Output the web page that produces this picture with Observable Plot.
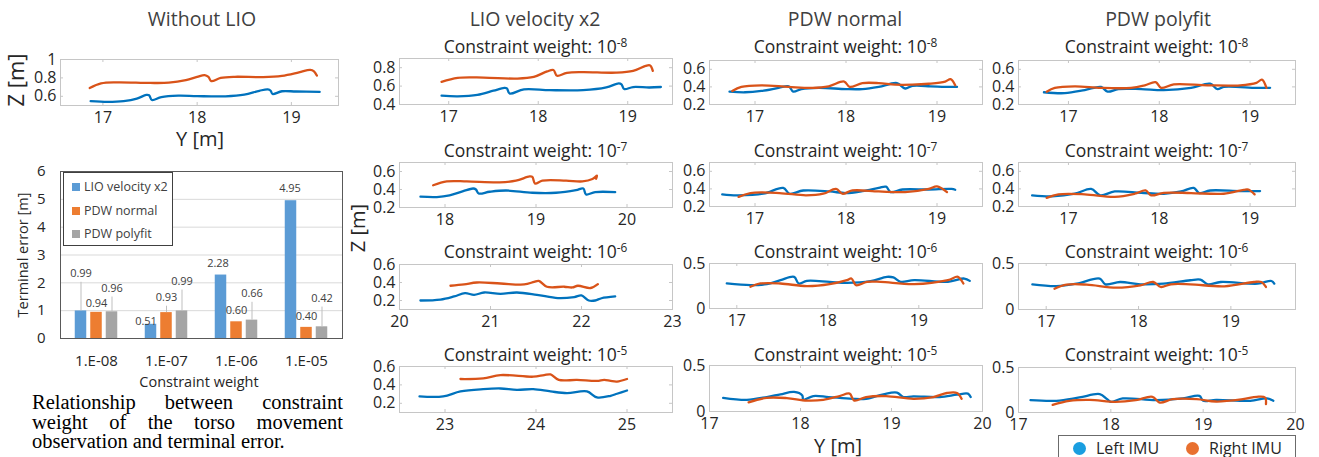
<!DOCTYPE html>
<html><head><meta charset="utf-8">
<script src="https://cdn.jsdelivr.net/npm/d3@7"></script>
<script src="https://cdn.jsdelivr.net/npm/@observablehq/plot@0.6"></script>
<style>
body{margin:0;background:#fff;}
#root{position:relative;width:1319px;height:457px;overflow:hidden;background:#fff;font-family:"Open Sans",sans-serif;}
.lbl{position:absolute;white-space:nowrap;line-height:1.05;}
.lbl sup{font-size:0.68em;vertical-align:0.5em;line-height:0;}
.pl{position:absolute;}
.cap{position:absolute;left:32px;top:392px;width:311px;height:60px;font-family:"Liberation Serif","Times New Roman",serif;font-size:20.5px;color:#000;}
.cap div{position:absolute;left:0;width:311px;text-align:justify;text-align-last:justify;white-space:nowrap;line-height:20px;}
</style></head>
<body><div id="root"></div>
<script>
// ---------- data: bar chart ----------
const weights = ["1.E-08", "1.E-07", "1.E-06", "1.E-05"];
const lioErr = [0.99, 0.51, 2.28, 4.95];
const normalErr = [0.94, 0.93, 0.60, 0.40];
const polyErr = [0.96, 0.99, 0.66, 0.42];
const barSeries = ["LIO velocity x2", "PDW normal", "PDW polyfit"];
const imuNames = ["Left IMU", "Right IMU"];

// ---------- data: trajectories [Y, Z] ----------
const noLioLeft = [[16.87,0.548],[17.05,0.540],[17.22,0.548],[17.36,0.575],[17.46,0.615],[17.49,0.612],[17.52,0.56],[17.62,0.592],[17.8,0.607],[18.0,0.602],[18.3,0.6],[18.5,0.618],[18.66,0.66],[18.75,0.675],[18.78,0.66],[18.8,0.625],[18.9,0.655],[19.05,0.652],[19.3,0.648]];
const noLioRight = [[16.86,0.69],[16.98,0.74],[17.15,0.752],[17.5,0.745],[17.7,0.748],[17.88,0.775],[18.0,0.81],[18.08,0.83],[18.12,0.81],[18.15,0.765],[18.25,0.8],[18.4,0.812],[18.7,0.808],[18.9,0.822],[19.08,0.86],[19.2,0.888],[19.24,0.872],[19.27,0.825]];

const lio8Left = [[16.92,0.496],[17.1,0.489],[17.32,0.504],[17.5,0.55],[17.62,0.58],[17.65,0.575],[17.68,0.52],[17.84,0.565],[18.13,0.556],[18.5,0.556],[18.76,0.586],[18.9,0.63],[18.93,0.62],[18.96,0.568],[19.06,0.59],[19.24,0.585],[19.37,0.59]];
const lio8Right = [[16.92,0.646],[17.1,0.69],[17.39,0.693],[17.76,0.682],[17.95,0.7],[18.1,0.76],[18.17,0.775],[18.21,0.712],[18.32,0.745],[18.5,0.752],[18.87,0.746],[19.06,0.765],[19.2,0.82],[19.25,0.825],[19.28,0.765]];
const lio7Left = [[17.73,0.32],[17.91,0.316],[18.05,0.335],[18.2,0.382],[18.31,0.411],[18.34,0.4],[18.37,0.356],[18.49,0.375],[18.67,0.389],[18.96,0.364],[19.22,0.364],[19.44,0.393],[19.52,0.411],[19.55,0.345],[19.65,0.371],[19.87,0.371]];
const lio7Right = [[17.87,0.447],[18.02,0.49],[18.24,0.49],[18.6,0.48],[18.78,0.498],[18.93,0.545],[18.96,0.54],[18.99,0.465],[19.07,0.498],[19.33,0.498],[19.51,0.49],[19.62,0.516],[19.67,0.553],[19.66,0.52]];
const lio6Left = [[20.23,0.2],[20.45,0.21],[20.6,0.245],[20.72,0.281],[20.82,0.263],[20.93,0.289],[21.11,0.274],[21.29,0.289],[21.51,0.263],[21.74,0.227],[21.92,0.238],[22.0,0.256],[22.08,0.2],[22.15,0.2],[22.22,0.225],[22.37,0.245]];
const lio6Right = [[20.56,0.364],[20.71,0.378],[20.85,0.4],[21.11,0.389],[21.37,0.378],[21.48,0.407],[21.53,0.418],[21.62,0.353],[21.81,0.353],[21.9,0.345],[21.96,0.364],[22.1,0.339],[22.18,0.382]];
const lio5Left = [[22.72,0.275],[22.98,0.275],[23.17,0.329],[23.42,0.354],[23.61,0.361],[23.79,0.346],[23.97,0.354],[24.16,0.329],[24.34,0.311],[24.56,0.329],[24.67,0.264],[24.82,0.282],[24.89,0.304],[25.0,0.339]];
const lio5Right = [[23.17,0.464],[23.42,0.471],[23.61,0.507],[23.97,0.489],[24.09,0.507],[24.16,0.514],[24.25,0.454],[24.45,0.454],[24.67,0.443],[24.75,0.455],[24.82,0.443],[24.89,0.436],[25.0,0.464]];

const pdwN8Left = [[16.72,0.346],[16.89,0.339],[17.07,0.354],[17.26,0.389],[17.37,0.407],[17.42,0.346],[17.51,0.375],[17.7,0.389],[18.0,0.375],[18.18,0.375],[18.36,0.4],[18.56,0.443],[18.65,0.382],[18.73,0.411],[18.93,0.407],[19.09,0.4],[19.22,0.4]];
const pdwN8Right = [[16.75,0.354],[16.85,0.4],[17.07,0.418],[17.37,0.4],[17.63,0.389],[17.81,0.407],[17.98,0.461],[18.04,0.4],[18.18,0.443],[18.36,0.443],[18.54,0.425],[18.73,0.425],[18.91,0.436],[19.09,0.461],[19.15,0.489],[19.2,0.418]];
const pdwN7Left = [[16.64,0.338],[16.8,0.327],[17.09,0.345],[17.31,0.411],[17.38,0.345],[17.53,0.382],[17.82,0.371],[18.0,0.353],[18.18,0.375],[18.36,0.411],[18.44,0.425],[18.49,0.364],[18.62,0.393],[18.91,0.393],[19.16,0.4],[19.2,0.39]];
const pdwN7Right = [[16.82,0.309],[16.95,0.353],[17.27,0.353],[17.56,0.327],[17.75,0.345],[17.89,0.4],[17.96,0.345],[18.07,0.382],[18.36,0.371],[18.65,0.364],[18.91,0.4],[19.0,0.429],[19.11,0.364]];
const pdwN6Left = [[16.89,0.278],[17.15,0.259],[17.33,0.27],[17.48,0.315],[17.63,0.352],[17.68,0.278],[17.77,0.307],[18.02,0.296],[18.21,0.285],[18.47,0.304],[18.65,0.352],[18.72,0.345],[18.8,0.296],[18.95,0.315],[19.32,0.296],[19.5,0.333],[19.56,0.307]];
const pdwN6Right = [[17.15,0.241],[17.26,0.278],[17.48,0.278],[17.77,0.248],[18.02,0.27],[18.21,0.315],[18.26,0.333],[18.31,0.259],[18.43,0.296],[18.58,0.296],[18.95,0.27],[19.32,0.315],[19.43,0.352],[19.49,0.278]];
const pdwN5Left = [[17.15,0.149],[17.41,0.127],[17.63,0.157],[17.78,0.187],[17.93,0.213],[18.02,0.175],[18.03,0.127],[18.14,0.168],[18.31,0.157],[18.57,0.138],[18.72,0.138],[18.91,0.187],[19.06,0.205],[19.13,0.157],[19.24,0.164],[19.53,0.157],[19.72,0.183],[19.84,0.194],[19.87,0.157]];
const pdwN5Right = [[17.43,0.1],[17.63,0.149],[17.85,0.146],[18.07,0.119],[18.25,0.127],[18.43,0.168],[18.54,0.194],[18.59,0.119],[18.72,0.157],[18.94,0.168],[19.24,0.138],[19.46,0.157],[19.61,0.201],[19.72,0.201],[19.77,0.138]];

const pdwP8Left = [[16.73,0.339],[16.96,0.329],[17.18,0.364],[17.36,0.4],[17.43,0.346],[17.55,0.375],[17.8,0.375],[18.05,0.364],[18.35,0.389],[18.56,0.436],[18.64,0.375],[18.71,0.4],[19.07,0.389],[19.22,0.389]];
const pdwP8Right = [[16.76,0.346],[16.85,0.389],[17.07,0.407],[17.36,0.389],[17.69,0.389],[17.84,0.418],[17.96,0.454],[18.02,0.389],[18.16,0.429],[18.53,0.418],[18.89,0.418],[19.07,0.446],[19.13,0.482],[19.18,0.389]];
const pdwP7Left = [[16.6,0.327],[16.82,0.316],[17.07,0.345],[17.25,0.4],[17.35,0.327],[17.51,0.371],[17.8,0.356],[18.05,0.345],[18.24,0.371],[18.38,0.411],[18.44,0.353],[18.56,0.382],[18.89,0.375],[19.11,0.375]];
const pdwP7Right = [[16.76,0.298],[16.89,0.338],[17.18,0.338],[17.51,0.309],[17.73,0.345],[17.85,0.382],[17.91,0.327],[18.05,0.356],[18.35,0.353],[18.71,0.345],[18.93,0.389],[18.98,0.393],[19.05,0.338]];
const pdwP6Left = [[16.85,0.274],[17.11,0.255],[17.33,0.281],[17.58,0.336],[17.64,0.274],[17.8,0.299],[18.02,0.274],[18.27,0.281],[18.56,0.318],[18.67,0.325],[18.75,0.274],[18.89,0.299],[19.29,0.281],[19.44,0.31],[19.47,0.281]];
const pdwP6Right = [[17.09,0.226],[17.22,0.27],[17.44,0.27],[17.76,0.237],[18.02,0.263],[18.16,0.299],[18.24,0.245],[18.35,0.274],[18.56,0.274],[18.93,0.252],[19.25,0.299],[19.33,0.299],[19.38,0.245]];
const pdwP5Left = [[17.13,0.137],[17.41,0.13],[17.66,0.167],[17.88,0.204],[17.96,0.148],[18.0,0.119],[18.13,0.156],[18.49,0.137],[18.78,0.156],[18.96,0.185],[19.0,0.13],[19.14,0.141],[19.51,0.13],[19.69,0.156],[19.76,0.13]];
const pdwP5Right = [[17.37,0.085],[17.55,0.13],[17.77,0.141],[18.05,0.119],[18.27,0.137],[18.45,0.174],[18.53,0.111],[18.67,0.148],[18.93,0.148],[19.14,0.122],[19.43,0.148],[19.58,0.174],[19.67,0.167],[19.68,0.093]];

// ---------- rendering ----------
const BLUE = "#0072BD", ORANGE = "#D95319";
const TXT = "#262626", FRAME = "#c6c6c6";
const root = document.getElementById("root");

function label(html, x, y, o = {}) {
  const d = document.createElement("div");
  d.className = "lbl";
  d.innerHTML = html;
  d.style.left = x + "px";
  d.style.top = y + "px";
  d.style.fontSize = (o.size || 16) + "px";
  d.style.color = o.color || TXT;
  if (o.family) d.style.fontFamily = o.family;
  d.style.transform = "translate(-50%,-50%)" + (o.rotate ? ` rotate(${o.rotate}deg)` : "");
  root.appendChild(d);
  return d;
}
function place(svg, left, top) {
  const d = document.createElement("div");
  d.className = "pl";
  d.style.left = left + "px";
  d.style.top = top + "px";
  d.appendChild(svg);
  root.appendChild(d);
}

function panel(c) {
  const ML = 50, MR = 10, MT = 4, MB = 30;
  const w = c.x1 - c.x0, h = c.y1 - c.y0;
  const rows = [
    ...c.L.map(([y, z]) => ({y, z, s: imuNames[0]})),
    ...c.R.map(([y, z]) => ({y, z, s: imuNames[1]}))
  ];
  const svg = Plot.plot({
    width: w + ML + MR, height: h + MT + MB,
    marginLeft: ML, marginRight: MR, marginTop: MT, marginBottom: MB,
    style: {background: "transparent", fontFamily: "Open Sans", fontSize: "16px", color: TXT, overflow: "visible"},
    x: {domain: c.xd, ticks: c.xt, tickSize: 0, tickPadding: 6, label: null, tickFormat: d => String(d)},
    y: {domain: c.yd, ticks: c.yt, tickSize: 0, tickPadding: 4, label: null, tickFormat: d => String(d)},
    color: {domain: imuNames, range: [BLUE, ORANGE]},
    marks: [
      Plot.frame({stroke: FRAME}),
      Plot.tickX(c.xt, {x: d => d, insetTop: h - 3, stroke: FRAME}),
      Plot.tickX(c.xt, {x: d => d, insetBottom: h - 3, stroke: FRAME}),
      Plot.tickY(c.yt, {y: d => d, insetRight: w - 3, stroke: FRAME}),
      Plot.tickY(c.yt, {y: d => d, insetLeft: w - 3, stroke: FRAME}),
      Plot.line(rows, {x: "y", y: "z", z: "s", stroke: "s", strokeWidth: 2.3, curve: "catmull-rom"})
    ]
  });
  place(svg, c.x0 - ML, c.y0 - MT);
  if (c.sub) label(`Constraint weight: 10<sup>${c.sub}</sup>`, (c.x0 + c.x1) / 2, c.subY, {size: 17.5});
}

const C1 = [399, 672], C2 = [709, 982], C3 = [1018, 1295];
const panels = [
  {x0: 60, x1: 338, y0: 59, y1: 105, xd: [16.55, 19.5], yd: [0.5, 1], xt: [17, 18, 19], yt: [0.6, 0.8, 1], L: noLioLeft, R: noLioRight},
  {x0: C1[0], x1: C1[1], y0: 58, y1: 104, xd: [16.45, 19.5], yd: [0.4, 0.9], xt: [17, 18, 19], yt: [0.4, 0.6, 0.8], L: lio8Left, R: lio8Right, sub: "-8", subY: 46},
  {x0: C1[0], x1: C1[1], y0: 162, y1: 207, xd: [17.5, 20.5], yd: [0.2, 0.7], xt: [18, 19, 20], yt: [0.2, 0.4, 0.6], L: lio7Left, R: lio7Right, sub: "-7", subY: 150},
  {x0: C1[0], x1: C1[1], y0: 264, y1: 309, xd: [20, 23], yd: [0.1, 0.6], xt: [20, 21, 22, 23], yt: [0.2, 0.4, 0.6], L: lio6Left, R: lio6Right, sub: "-6", subY: 251},
  {x0: C1[0], x1: C1[1], y0: 366, y1: 412, xd: [22.5, 25.5], yd: [0.1, 0.6], xt: [23, 24, 25], yt: [0.2, 0.4, 0.6], L: lio5Left, R: lio5Right, sub: "-5", subY: 354},
  {x0: C2[0], x1: C2[1], y0: 60, y1: 104, xd: [16.5, 19.5], yd: [0.2, 0.7], xt: [17, 18, 19], yt: [0.2, 0.4, 0.6], L: pdwN8Left, R: pdwN8Right, sub: "-8", subY: 46},
  {x0: C2[0], x1: C2[1], y0: 162, y1: 206, xd: [16.5, 19.5], yd: [0.2, 0.7], xt: [17, 18, 19], yt: [0.2, 0.4, 0.6], L: pdwN7Left, R: pdwN7Right, sub: "-7", subY: 150},
  {x0: C2[0], x1: C2[1], y0: 263, y1: 308, xd: [16.7, 19.7], yd: [0, 0.5], xt: [17, 18, 19], yt: [0, 0.5], L: pdwN6Left, R: pdwN6Right, sub: "-6", subY: 251},
  {x0: C2[0], x1: C2[1], y0: 365, y1: 411, xd: [17, 20], yd: [0, 0.5], xt: [17, 18, 19, 20], yt: [0, 0.5], L: pdwN5Left, R: pdwN5Right, sub: "-5", subY: 354},
  {x0: C3[0], x1: C3[1], y0: 60, y1: 104, xd: [16.45, 19.5], yd: [0.2, 0.7], xt: [17, 18, 19], yt: [0.2, 0.4, 0.6], L: pdwP8Left, R: pdwP8Right, sub: "-8", subY: 46},
  {x0: C3[0], x1: C3[1], y0: 162, y1: 206, xd: [16.45, 19.5], yd: [0.2, 0.7], xt: [17, 18, 19], yt: [0.2, 0.4, 0.6], L: pdwP7Left, R: pdwP7Right, sub: "-7", subY: 150},
  {x0: C3[0], x1: C3[1], y0: 263, y1: 309, xd: [16.7, 19.7], yd: [0, 0.5], xt: [17, 18, 19], yt: [0, 0.5], L: pdwP6Left, R: pdwP6Right, sub: "-6", subY: 251},
  {x0: C3[0], x1: C3[1], y0: 367, y1: 412, xd: [17, 20], yd: [0, 0.5], xt: [17, 18, 19, 20], yt: [0, 0.5], L: pdwP5Left, R: pdwP5Right, sub: "-5", subY: 354}
];
panels.forEach(panel);

// column titles and axis labels
label("Without LIO", 202, 19, {size: 19.5, color: "#404040"});
label("LIO velocity x2", 535, 19, {size: 19.5, color: "#404040"});
label("PDW normal", 845, 19, {size: 19.5, color: "#404040"});
label("PDW polyfit", 1158, 19, {size: 19.5, color: "#404040"});
label("Z [m]", 16, 80, {size: 22, rotate: -90});
label("Y [m]", 200, 138, {size: 20});
label("Z [m]", 357, 228, {size: 20, rotate: -90});
label("Y [m]", 838, 445, {size: 20});

// ---------- bar chart ----------
{
  const ML = 60, MT = 21, W = 282, H = 167, MR = 8, MB = 30;
  const inset = (W / 4 - 12) / 2;
  const colors = ["#5B9BD5", "#ED7D31", "#A5A5A5"];
  const vals = [lioErr, normalErr, polyErr];
  const offs = [-15.5, 0, 15.5];
  // label placement (value units) & horizontal nudges, as in the original Excel callouts
  const labelAt = [[2.32, 0.6, 2.68, 5.39], [1.25, 1.46, 1.0, 0.79], [1.79, 2.04, 1.6, 1.43]];
  const labelDx = [[0, -5, -3, -1], [0, 0, 0, 0], [0, 0, 0, 0]];
  const leaders = [[true, false, false, false], [false, true, false, false], [true, true, true, true]];
  const marks = [Plot.gridY([1, 2, 3, 4, 5], {stroke: "#d9d9d9", strokeOpacity: 1})];
  vals.forEach((v, s) => {
    const rows = weights.map((w, i) => ({w, v: v[i], ly: labelAt[s][i], dxl: labelDx[s][i], lead: leaders[s][i]}));
    marks.push(Plot.barY(rows, {x: "w", y: "v", fill: colors[s], insetLeft: inset, insetRight: inset, dx: offs[s]}));
    marks.push(Plot.ruleX(rows.filter(r => r.lead), {x: "w", y1: "v", y2: r => r.ly - 0.3, dx: offs[s], stroke: "#bfbfbf", strokeWidth: 1}));
    rows.forEach(r => {
      marks.push(Plot.text([r], {x: "w", y: "ly", text: d => d.v.toFixed(2), dx: offs[s] + r.dxl, fill: "#404040", fontSize: 11}));
    });
  });
  marks.push(Plot.frame({stroke: "#595959"}));
  const svg = Plot.plot({
    width: ML + W + MR, height: MT + H + MB,
    marginLeft: ML, marginRight: MR, marginTop: MT, marginBottom: MB,
    style: {background: "transparent", fontFamily: "Open Sans", fontSize: "15px", color: "#262626", overflow: "visible"},
    x: {type: "band", domain: weights, padding: 0, tickSize: 0, tickPadding: 17, label: null},
    y: {domain: [0, 6], ticks: [0, 1, 2, 3, 4, 5, 6], tickSize: 0, tickPadding: 15, label: null, tickFormat: d => String(d)},
    marks
  });
  place(svg, 0, 150);
  label("Terminal error [m]", 23, 255, {size: 14.5, rotate: -90});
  label("Constraint weight", 199, 382, {size: 14.5});
  // legend
  const lg = document.createElement("div");
  lg.style.cssText = "position:absolute;left:63px;top:172px;width:108px;height:72px;border:1px solid #404040;background:#fff;font-family:'Open Sans';font-size:12.5px;color:#404040;";
  barSeries.forEach((s, i) => {
    const it = document.createElement("div");
    it.style.cssText = `position:absolute;left:8px;top:${6 + i * 23.5}px;white-space:nowrap;line-height:16px;`;
    it.innerHTML = `<span style="display:inline-block;width:8px;height:8px;background:${colors[i]};margin-right:4px;vertical-align:0px"></span>${s}`;
    lg.appendChild(it);
  });
  root.appendChild(lg);
}

// caption
{
  const cap = document.createElement("div");
  cap.className = "cap";
  const lines = ["Relationship between constraint", "weight of the torso movement", "observation and terminal error."];
  lines.forEach((t, i) => {
    const d = document.createElement("div");
    d.textContent = t;
    d.style.top = (i * 19.5) + "px";
    if (i === 2) { d.style.textAlignLast = "left"; d.style.textAlign = "left"; }
    cap.appendChild(d);
  });
  root.appendChild(cap);
}

// IMU legend (box continues below the picture edge, as in the reference)
{
  const lg = document.createElement("div");
  lg.style.cssText = "position:absolute;left:1058px;top:435px;width:236px;height:21px;border:1px solid #6b6b6b;border-bottom:none;background:#fff;font-family:'Open Sans';font-size:16px;color:#262626;overflow:hidden;";
  const cols = ["#1a9ee0", "#e8702f"];
  const xs = [14, 127];
  imuNames.forEach((n, i) => {
    const it = document.createElement("div");
    it.style.cssText = `position:absolute;left:${xs[i]}px;top:4px;white-space:nowrap;line-height:16px;`;
    it.innerHTML = `<span style="display:inline-block;width:13px;height:13px;border-radius:50%;background:${cols[i]};margin-right:10px;vertical-align:-1px"></span>${n}`;
    lg.appendChild(it);
  });
  root.appendChild(lg);
}
</script>
</body></html>
